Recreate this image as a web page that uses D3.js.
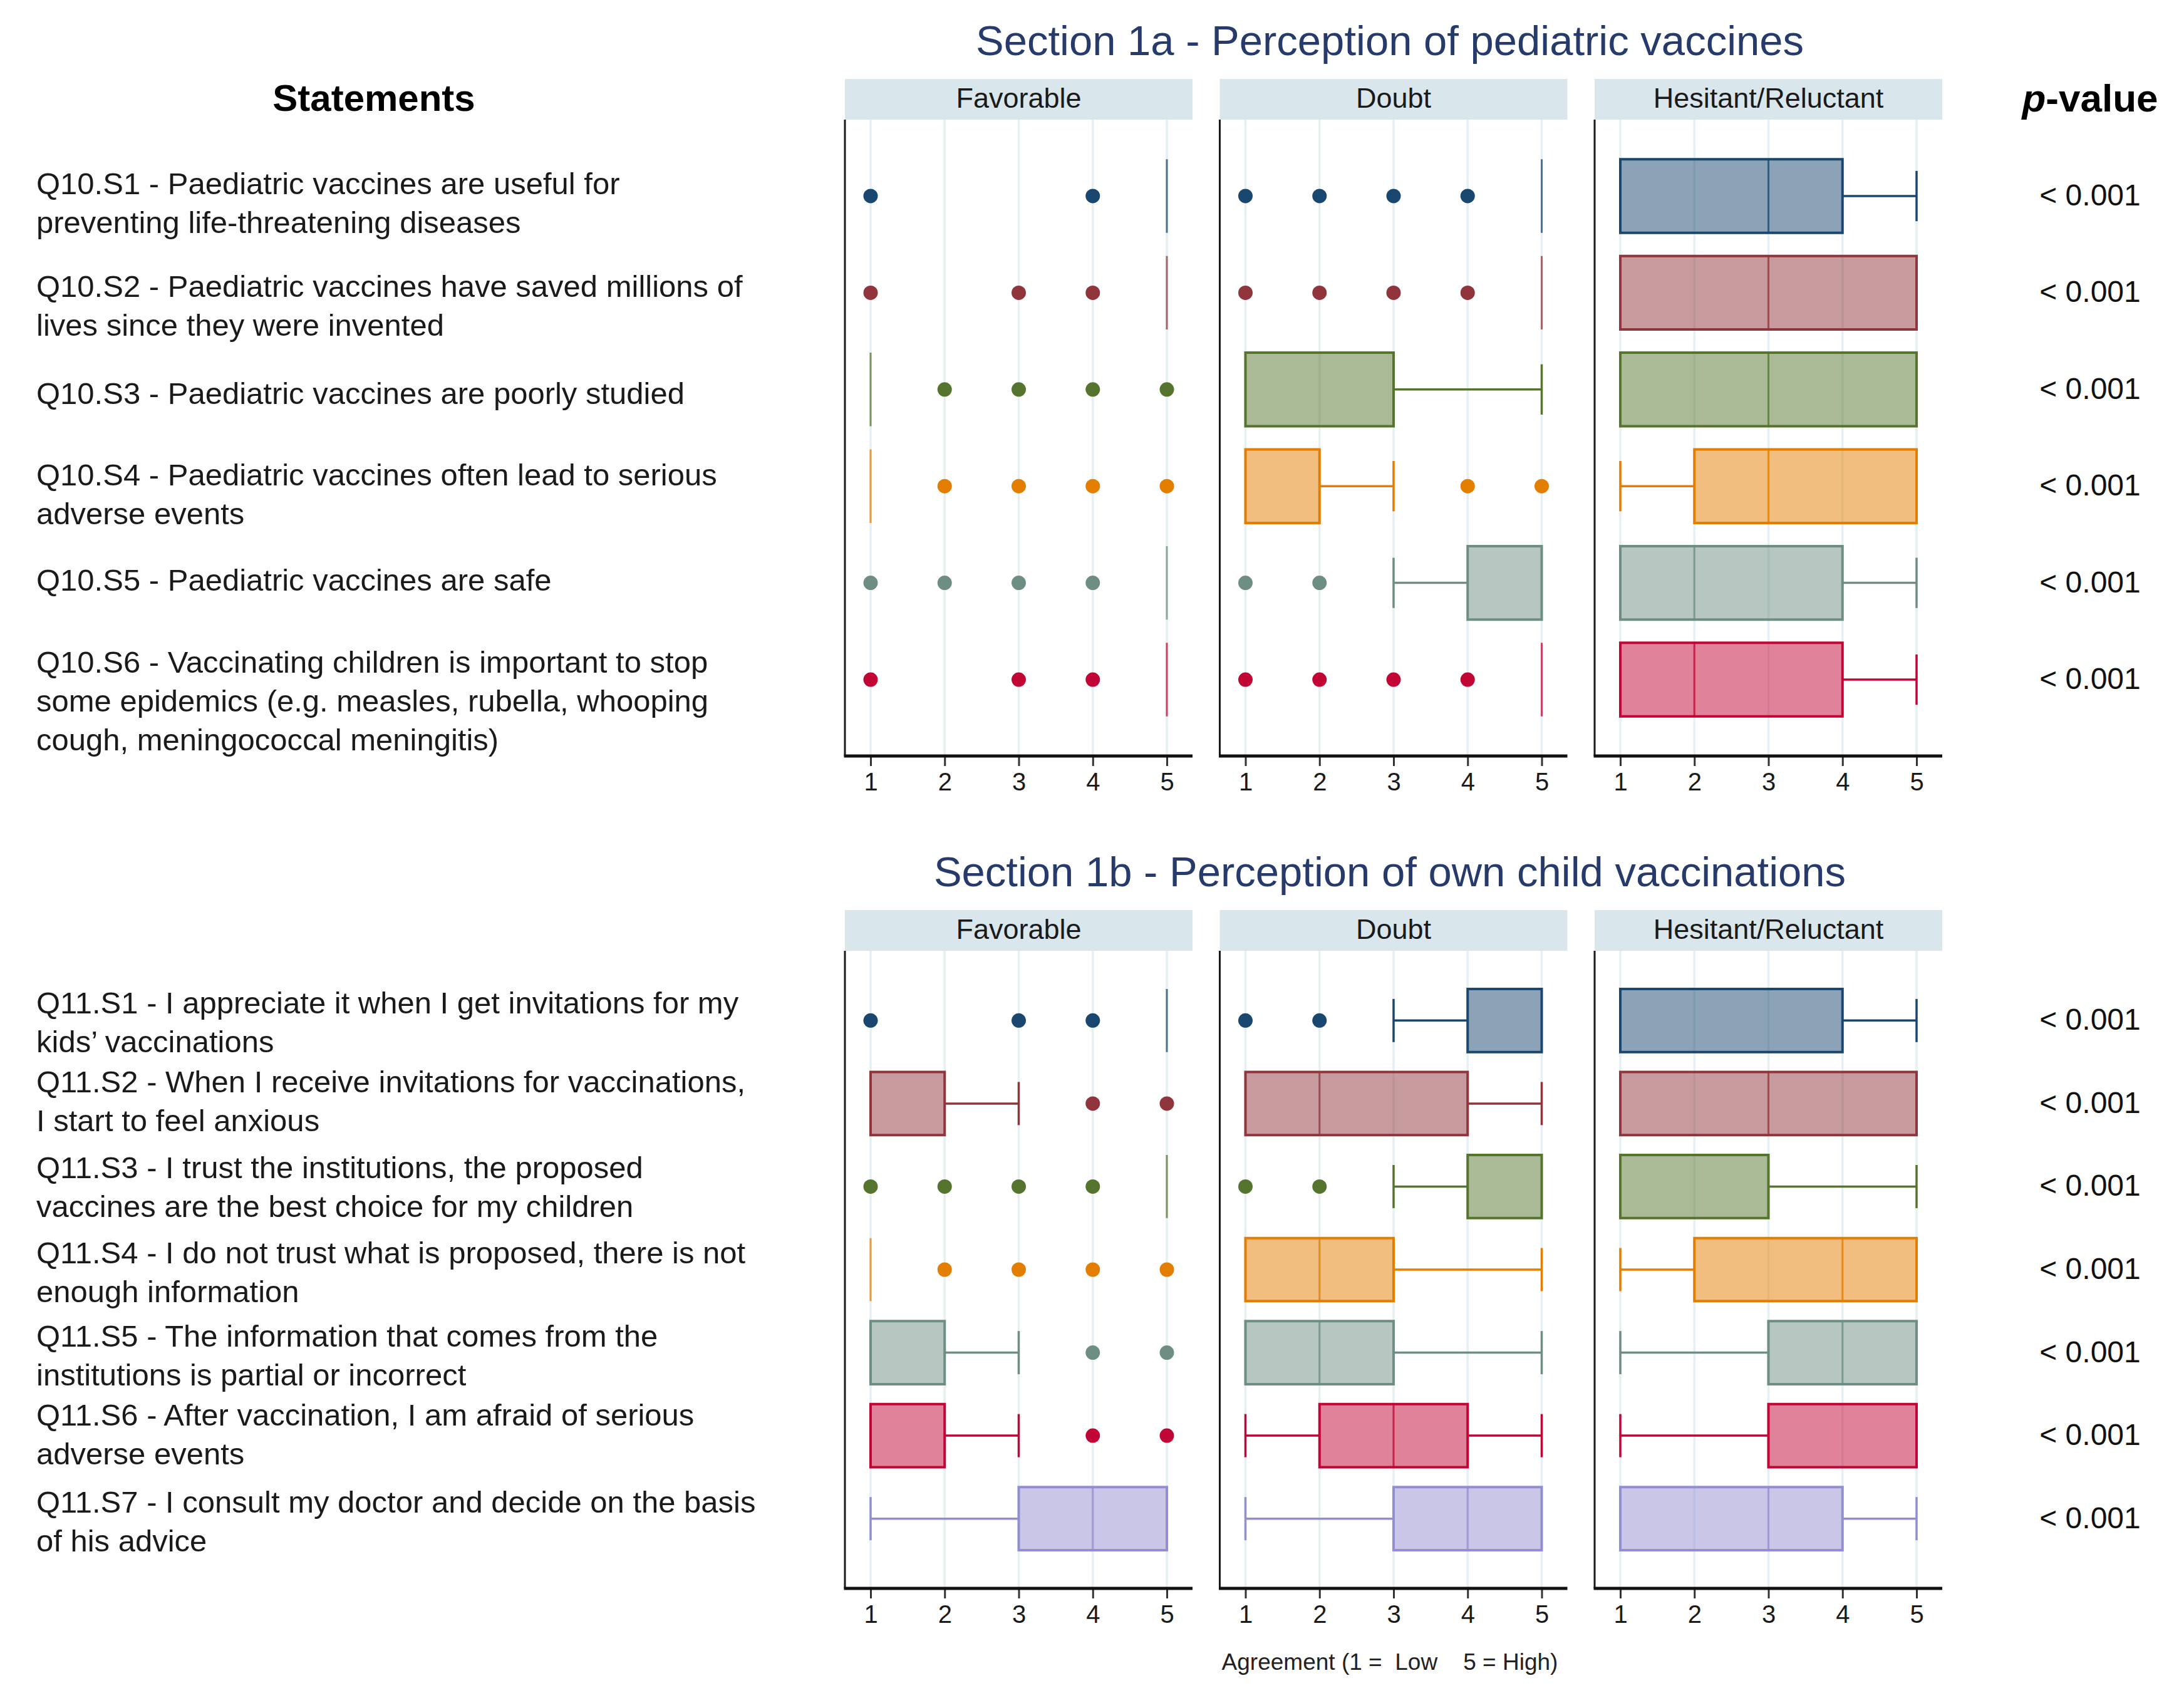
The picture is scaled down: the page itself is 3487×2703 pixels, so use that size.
<!DOCTYPE html>
<html>
<head>
<meta charset="utf-8">
<script src="https://cdn.jsdelivr.net/npm/d3@7"></script>
<style>
  body { margin: 0; background: #fff; }
  svg { display: block; font-family: "Liberation Sans", Arial, sans-serif; }
</style>
</head>
<body>
<div id="chart"></div>
<script>
// categories
var groups = ['Favorable', 'Doubt', 'Hesitant/Reluctant']
var ticks = [1, 2, 3, 4, 5]
var colors = ['#1a476f', '#90353b', '#55752f', '#e37e00', '#6e8e84', '#c10534', '#938dd2']

var statements1a = [
	['Q10.S1 - Paediatric vaccines are useful for', 'preventing life-threatening diseases'],
	['Q10.S2 - Paediatric vaccines have saved millions of', 'lives since they were invented'],
	['Q10.S3 - Paediatric vaccines are poorly studied'],
	['Q10.S4 - Paediatric vaccines often lead to serious', 'adverse events'],
	['Q10.S5 - Paediatric vaccines are safe'],
	['Q10.S6 - Vaccinating children is important to stop', 'some epidemics (e.g. measles, rubella, whooping', 'cough, meningococcal meningitis)']
]
var statements1b = [
	['Q11.S1 - I appreciate it when I get invitations for my', 'kids\u2019 vaccinations'],
	['Q11.S2 - When I receive invitations for vaccinations,', 'I start to feel anxious'],
	['Q11.S3 - I trust the institutions, the proposed', 'vaccines are the best choice for my children'],
	['Q11.S4 - I do not trust what is proposed, there is not', 'enough information'],
	['Q11.S5 - The information that comes from the', 'institutions is partial or incorrect'],
	['Q11.S6 - After vaccination, I am afraid of serious', 'adverse events'],
	['Q11.S7 - I consult my doctor and decide on the basis', 'of his advice']
]

var pvalues1a = ['< 0.001', '< 0.001', '< 0.001', '< 0.001', '< 0.001', '< 0.001']
var pvalues1b = ['< 0.001', '< 0.001', '< 0.001', '< 0.001', '< 0.001', '< 0.001', '< 0.001']

// box summaries: lower whisker, q1, median, q3, upper whisker, outside values
var s1aFavorable = [
	{lo: 5, q1: 5, med: 5, q3: 5, hi: 5, out: [1, 4]},
	{lo: 5, q1: 5, med: 5, q3: 5, hi: 5, out: [1, 3, 4]},
	{lo: 1, q1: 1, med: 1, q3: 1, hi: 1, out: [2, 3, 4, 5]},
	{lo: 1, q1: 1, med: 1, q3: 1, hi: 1, out: [2, 3, 4, 5]},
	{lo: 5, q1: 5, med: 5, q3: 5, hi: 5, out: [1, 2, 3, 4]},
	{lo: 5, q1: 5, med: 5, q3: 5, hi: 5, out: [1, 3, 4]}
]
var s1aDoubt = [
	{lo: 5, q1: 5, med: 5, q3: 5, hi: 5, out: [1, 2, 3, 4]},
	{lo: 5, q1: 5, med: 5, q3: 5, hi: 5, out: [1, 2, 3, 4]},
	{lo: 1, q1: 1, med: 1, q3: 3, hi: 5, out: []},
	{lo: 1, q1: 1, med: 1, q3: 2, hi: 3, out: [4, 5]},
	{lo: 3, q1: 4, med: 5, q3: 5, hi: 5, out: [1, 2]},
	{lo: 5, q1: 5, med: 5, q3: 5, hi: 5, out: [1, 2, 3, 4]}
]
var s1aHesitant = [
	{lo: 1, q1: 1, med: 3, q3: 4, hi: 5, out: []},
	{lo: 1, q1: 1, med: 3, q3: 5, hi: 5, out: []},
	{lo: 1, q1: 1, med: 3, q3: 5, hi: 5, out: []},
	{lo: 1, q1: 2, med: 3, q3: 5, hi: 5, out: []},
	{lo: 1, q1: 1, med: 2, q3: 4, hi: 5, out: []},
	{lo: 1, q1: 1, med: 2, q3: 4, hi: 5, out: []}
]

var s1bFavorable = [
	{lo: 5, q1: 5, med: 5, q3: 5, hi: 5, out: [1, 3, 4]},
	{lo: 1, q1: 1, med: 1, q3: 2, hi: 3, out: [4, 5]},
	{lo: 5, q1: 5, med: 5, q3: 5, hi: 5, out: [1, 2, 3, 4]},
	{lo: 1, q1: 1, med: 1, q3: 1, hi: 1, out: [2, 3, 4, 5]},
	{lo: 1, q1: 1, med: 1, q3: 2, hi: 3, out: [4, 5]},
	{lo: 1, q1: 1, med: 1, q3: 2, hi: 3, out: [4, 5]},
	{lo: 1, q1: 3, med: 4, q3: 5, hi: 5, out: []}
]
var s1bDoubt = [
	{lo: 3, q1: 4, med: 5, q3: 5, hi: 5, out: [1, 2]},
	{lo: 1, q1: 1, med: 2, q3: 4, hi: 5, out: []},
	{lo: 3, q1: 4, med: 5, q3: 5, hi: 5, out: [1, 2]},
	{lo: 1, q1: 1, med: 2, q3: 3, hi: 5, out: []},
	{lo: 1, q1: 1, med: 2, q3: 3, hi: 5, out: []},
	{lo: 1, q1: 2, med: 3, q3: 4, hi: 5, out: []},
	{lo: 1, q1: 3, med: 4, q3: 5, hi: 5, out: []}
]
var s1bHesitant = [
	{lo: 1, q1: 1, med: 1, q3: 4, hi: 5, out: []},
	{lo: 1, q1: 1, med: 3, q3: 5, hi: 5, out: []},
	{lo: 1, q1: 1, med: 1, q3: 3, hi: 5, out: []},
	{lo: 1, q1: 2, med: 4, q3: 5, hi: 5, out: []},
	{lo: 1, q1: 3, med: 4, q3: 5, hi: 5, out: []},
	{lo: 1, q1: 3, med: 5, q3: 5, hi: 5, out: []},
	{lo: 1, q1: 1, med: 3, q3: 4, hi: 5, out: []}
]

// layout
var width = 3487,
	height = 2703,
	panel0 = 1349, panelStep = 598.5, panelW = 555,
	headerH = 65,
	titleX = 2219,
	pvalX = 3337,
	textX = 58,
	lineH = 62

var sections = [
	{title: 'Section 1a - Perception of pediatric vaccines', titleY: 88, top: 126, axisY: 1207, pad: 0.79,
		statements: statements1a, pvalues: pvalues1a, stats: [s1aFavorable, s1aDoubt, s1aHesitant],
		nudge: [11, 21, 6, 13, -5, 34]},
	{title: 'Section 1b - Perception of own child vaccinations', titleY: 1415, top: 1453, axisY: 2536, pad: 0.84,
		statements: statements1b, pvalues: pvalues1b, stats: [s1bFavorable, s1bDoubt, s1bHesitant],
		nudge: [3, -4, 1, 4, 4, -2, 4]}
]

var vis = d3.select('#chart').append('svg')
	.attr('width', width)
	.attr('height', height)
	.attr('viewBox', '0 0 ' + width + ' ' + height)

vis.append('rect').attr('width', width).attr('height', height).attr('fill', '#fff')

vis.append('text')
	.attr('x', 597).attr('y', 177)
	.attr('text-anchor', 'middle')
	.style('font-size', '60px').style('font-weight', 'bold')
	.text('Statements')

var ph = vis.append('text')
	.attr('x', pvalX).attr('y', 178)
	.attr('text-anchor', 'middle')
	.style('font-size', '62px').style('font-weight', 'bold')
ph.append('tspan').style('font-style', 'italic').text('p')
ph.append('tspan').text('-value')

sections.forEach(function(sec) {
	var n = sec.statements.length
	var plotTop = sec.top + headerH
	var y = d3.scalePoint()
		.domain(d3.range(n))
		.range([plotTop, sec.axisY])
		.padding(sec.pad)
	var step = y.step(),
		boxH = step * 0.76,
		capH = step * 0.52

	vis.append('text')
		.attr('x', titleX)
		.attr('y', sec.titleY)
		.attr('text-anchor', 'middle')
		.attr('fill', '#263b6b')
		.style('font-size', '67px')
		.text(sec.title)

	// statements
	sec.statements.forEach(function(lines, i) {
		var y0 = y(i) + sec.nudge[i] - (lines.length - 1) * lineH / 2 + 17
		var t = vis.append('text')
			.attr('x', textX).attr('y', y0)
			.attr('fill', '#1a1a1a')
			.style('font-size', '49px')
		lines.forEach(function(l, j) {
			t.append('tspan').attr('x', textX).attr('y', y0 + j * lineH).text(l)
		})
	})

	// p-values
	vis.selectAll(null)
		.data(sec.pvalues)
		.enter().append('text')
		.attr('x', pvalX)
		.attr('y', function(d, i) { return y(i) + 15 })
		.attr('text-anchor', 'middle')
		.attr('fill', '#111')
		.style('font-size', '48px')
		.text(function(d) { return d })

	groups.forEach(function(g, k) {
		var left = panel0 + k * panelStep
		var x = d3.scaleLinear().domain([1, 5]).range([left + 41, left + 514])
		var panel = vis.append('g')

		panel.append('rect')
			.attr('x', left).attr('y', sec.top)
			.attr('width', panelW).attr('height', headerH)
			.attr('fill', '#d9e6ec')
		panel.append('text')
			.attr('x', left + panelW / 2).attr('y', sec.top + 46)
			.attr('text-anchor', 'middle')
			.attr('fill', '#1a1a1a')
			.style('font-size', '45px')
			.text(g)

		panel.selectAll('.grid')
			.data(ticks)
			.enter().append('line')
			.attr('x1', x).attr('x2', x)
			.attr('y1', plotTop).attr('y2', sec.axisY)
			.attr('stroke', '#e6eff1').attr('stroke-width', 3.5)

		panel.append('line')
			.attr('x1', left).attr('x2', left)
			.attr('y1', plotTop).attr('y2', sec.axisY)
			.attr('stroke', '#1a1a1a').attr('stroke-width', 3)

		var ax = panel.append('g')
			.attr('transform', 'translate(0,' + sec.axisY + ')')
			.call(d3.axisBottom(x).tickValues(ticks).tickFormat(d3.format('d'))
				.tickSize(16).tickSizeOuter(0).tickPadding(11))
		ax.select('.domain').remove()
		ax.selectAll('line').attr('stroke', '#333').attr('stroke-width', 3)
		ax.selectAll('text')
			.attr('fill', '#1a1a1a')
			.style('font-size', '40px')
			.style('font-family', '"Liberation Sans", Arial, sans-serif')
		panel.append('line')
			.attr('x1', left - 1.5).attr('x2', left + panelW)
			.attr('y1', sec.axisY).attr('y2', sec.axisY)
			.attr('stroke', '#111').attr('stroke-width', 5)

		// boxes
		panel.selectAll('.row')
			.data(sec.stats[k])
			.enter().append('g')
			.attr('transform', function(d, i) { return 'translate(0,' + y(i) + ')' })
			.each(function(d, i) {
				var c = colors[i], row = d3.select(this)
				if (d.lo < d.q1) {
					row.append('line')
						.attr('x1', x(d.lo)).attr('x2', x(d.q1)).attr('y1', 0).attr('y2', 0)
						.attr('stroke', c).attr('stroke-width', 3.5)
					row.append('line')
						.attr('x1', x(d.lo)).attr('x2', x(d.lo)).attr('y1', -capH / 2).attr('y2', capH / 2)
						.attr('stroke', c).attr('stroke-width', 3.5)
				}
				if (d.hi > d.q3) {
					row.append('line')
						.attr('x1', x(d.q3)).attr('x2', x(d.hi)).attr('y1', 0).attr('y2', 0)
						.attr('stroke', c).attr('stroke-width', 3.5)
					row.append('line')
						.attr('x1', x(d.hi)).attr('x2', x(d.hi)).attr('y1', -capH / 2).attr('y2', capH / 2)
						.attr('stroke', c).attr('stroke-width', 3.5)
				}
				var bx0 = x(d.q1), bx1 = x(d.q3)
				row.append('path')
					.attr('d', 'M' + bx0 + ',' + (-boxH / 2) + 'H' + bx1 + 'V' + (boxH / 2) + 'H' + bx0 + 'Z')
					.attr('fill', c).attr('fill-opacity', 0.5)
					.attr('stroke', c).attr('stroke-width', bx1 > bx0 ? 4 : 3)
					.attr('stroke-opacity', bx1 > bx0 ? 1 : 0.75)
				if (bx1 > bx0) {
					row.append('line')
						.attr('x1', x(d.med)).attr('x2', x(d.med))
						.attr('y1', -boxH / 2).attr('y2', boxH / 2)
						.attr('stroke', c).attr('stroke-width', 3).attr('stroke-opacity', 0.75)
				}
				row.selectAll('circle')
					.data(d.out)
					.enter().append('circle')
					.attr('cx', x).attr('cy', 0).attr('r', 11.5)
					.attr('fill', c)
			})
	})
})

vis.append('text')
	.attr('x', titleX)
	.attr('y', 2666)
	.attr('text-anchor', 'middle')
	.attr('fill', '#222')
	.style('font-size', '37px')
	.style('white-space', 'pre')
	.text('Agreement (1 =  Low    5 = High)')
</script>
</body>
</html>
